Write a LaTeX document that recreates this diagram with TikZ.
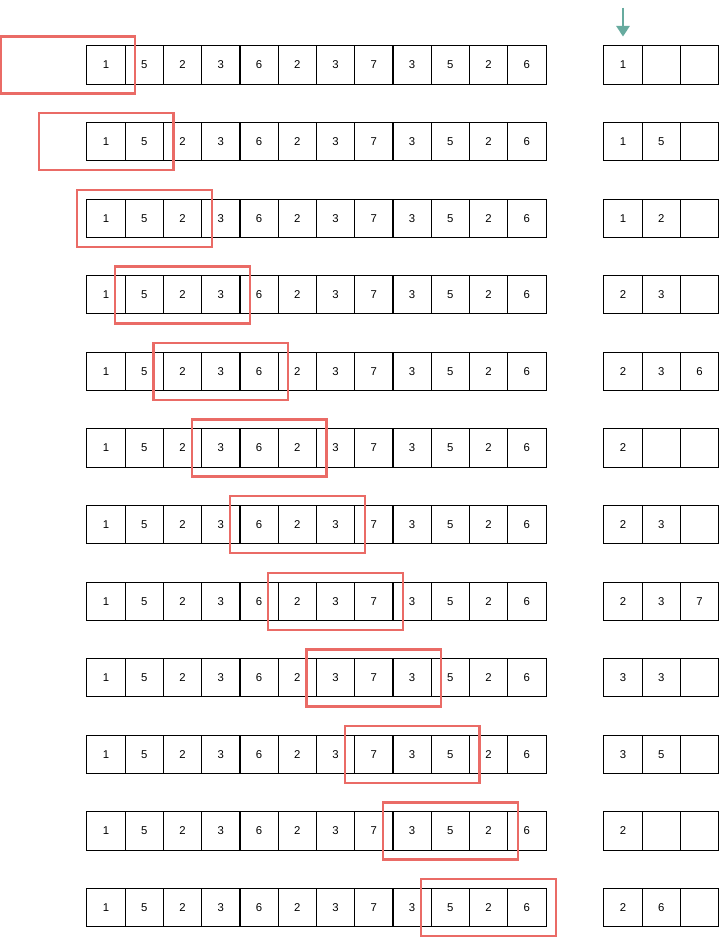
\documentclass[tikz,border=0pt]{standalone}
\usepackage{fontspec}
\setmainfont{Liberation Sans}
\usetikzlibrary{positioning,arrows.meta}
\definecolor{winred}{HTML}{EA6B66}
\definecolor{arrowgreen}{HTML}{67AB9F}

\begin{document}
\begin{tikzpicture}[x=0.75pt,y=-0.75pt,>={Triangle[length=8pt,width=10pt]},
  cell/.style={draw,outer sep=0pt,inner sep=0pt,minimum width=28.7pt,minimum height=28.7pt,line width=0.75pt,font=\fontsize{8.5}{10}\selectfont},
  window/.style={draw=winred,line width=1.8pt},
  pointer/.style={->,draw=arrowgreen,fill=arrowgreen,line width=1.6pt}]

\useasboundingbox (0,0) rectangle (720,938);

% the array, once per step
\foreach \r in {0,...,11}{
  \foreach \v [count=\i] in {1,5,2,3,6,2,3,7,3,5,2,6}
    \node[cell] (c\r-\i) at ({87+(\i-0.5)*38.25},{65+\r*76.6}) {\v};
}

% the window
\foreach \r in {0,...,11}
  \draw[window] ({87+(\r-2)*38.25-10},{65+\r*76.6-28.5}) rectangle ({87+(\r+1)*38.25+10},{65+\r*76.6+28.5});

% what the window keeps
\foreach \r/\a/\b/\c in {0/1/{}/{},1/1/5/{},2/1/2/{},3/2/3/{},4/2/3/6,5/2/{}/{},
                         6/2/3/{},7/2/3/7,8/3/3/{},9/3/5/{},10/2/{}/{},11/2/6/{}}{
  \node[cell] (q\r-1) at (623,{65+\r*76.6}) {\a};
  \node[cell] (q\r-2) [right=0pt of q\r-1] {\b};
  \node[cell] (q\r-3) [right=0pt of q\r-2] {\c};
}

\coordinate (top) at (623,8);
\draw[pointer,shorten >=7pt] (top) -- (q0-1.north);

\end{tikzpicture}
\end{document}
